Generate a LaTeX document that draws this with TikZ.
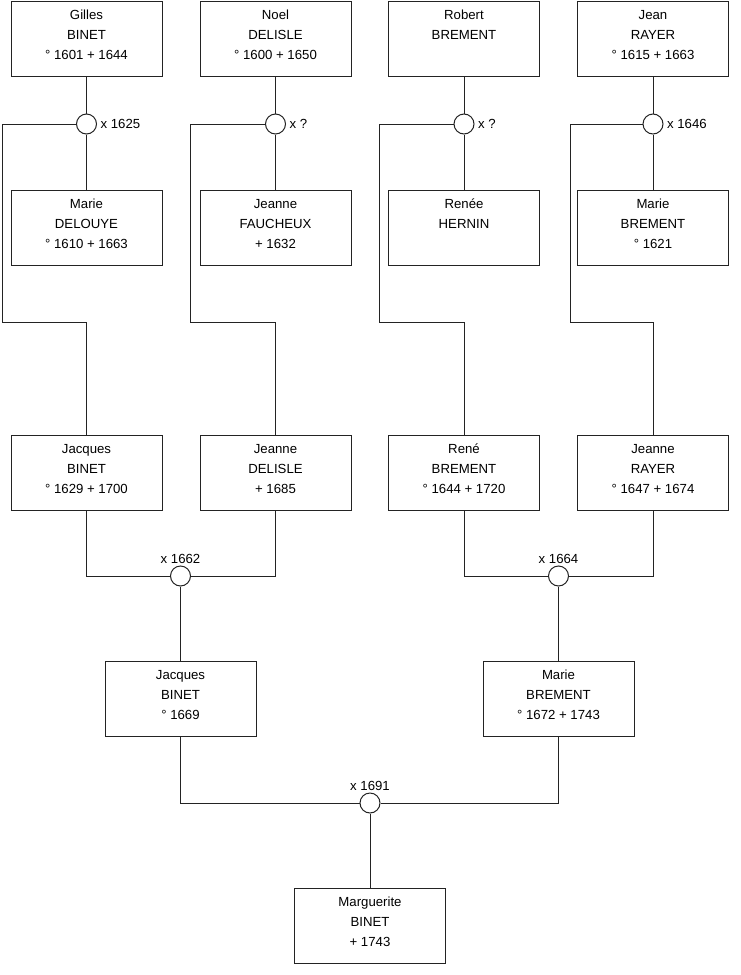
\documentclass[tikz,border=0pt]{standalone}
\usepackage{fontspec}
\setmainfont{Liberation Sans}
\usepackage{tikz}
\usetikzlibrary{positioning}
\definecolor{mydark}{RGB}{35,35,35}
\newcommand{\who}[3]{\rule{0pt}{8pt}#1\\#2\\#3\rule[-6.5pt]{0pt}{0pt}}
\tikzset{
  person/.style={rectangle, draw=mydark, fill=white,
    minimum width=113.25pt, minimum height=56.25pt, inner sep=0pt,
    align=center, font=\fontsize{9.9}{15}\selectfont, line width=0.75pt},
  union/.style={circle, draw=mydark, fill=white,
    minimum size=15pt, inner sep=0pt, line width=0.75pt},
  datelbl/.style={font=\fontsize{9.9}{12}\selectfont, inner sep=0pt},
  line/.style={line width=0.75pt, color=mydark}
}

\begin{document}
\begin{tikzpicture}[x=0.75pt, y=-0.75pt]
  \useasboundingbox (0,0) rectangle (740,975);

  % Great-grandparents
  \node[person] (gilles) at (86.5, 38.5) {\who{Gilles}{BINET}{° 1601 + 1644}};
  \node[person] (noel) at (275.5, 38.5) {\who{Noel}{DELISLE}{° 1600 + 1650}};
  \node[person] (robert) at (464, 38.5) {\who{Robert}{BREMENT}{}};
  \node[person] (jean) at (653, 38.5) {\who{Jean}{RAYER}{° 1615 + 1663}};

  \node[person] (marieD) at (86.5, 227.5) {\who{Marie}{DELOUYE}{° 1610 + 1663}};
  \node[person] (jeanneF) at (275.5, 227.5) {\who{Jeanne}{FAUCHEUX}{+ 1632}};
  \node[person] (reneeH) at (464, 227.5) {\who{Renée}{HERNIN}{}};
  \node[person] (marieB1) at (653, 227.5) {\who{Marie}{BREMENT}{° 1621}};

  % Unions
  \node[union] (u1) at (86.5, 124) {};
  \node[union] (u2) at (275.5, 124) {};
  \node[union] (u3) at (464, 124) {};
  \node[union] (u4) at (653, 124) {};

  \node[datelbl, right=2.5pt of u1] (d1) {x 1625};
  \node[datelbl, right=2.5pt of u2] (d2) {x ?};
  \node[datelbl, right=2.5pt of u3] (d3) {x ?};
  \node[datelbl, right=2.5pt of u4] (d4) {x 1646};

  % Grandparents
  \node[person] (jacquesB1) at (86.5, 472.5) {\who{Jacques}{BINET}{° 1629 + 1700}};
  \node[person] (jeanneD) at (275.5, 472.5) {\who{Jeanne}{DELISLE}{+ 1685}};
  \node[person] (reneB) at (464, 472.5) {\who{René}{BREMENT}{° 1644 + 1720}};
  \node[person] (jeanneR) at (653, 472.5) {\who{Jeanne}{RAYER}{° 1647 + 1674}};

  \node[union] (u5) at (180.5, 576) {};
  \node[union] (u6) at (558.5, 576) {};
  \node[datelbl, above=1.5pt of u5] (d5) {x 1662};
  \node[datelbl, above=1.5pt of u6] (d6) {x 1664};

  % Parents
  \node[person] (jacquesB2) at (180.5, 698.5) {\who{Jacques}{BINET}{° 1669}};
  \node[person] (marieB2) at (558.5, 698.5) {\who{Marie}{BREMENT}{° 1672 + 1743}};

  \node[union] (u7) at (370, 803) {};
  \node[datelbl, above=1.5pt of u7] (d7) {x 1691};

  \node[person] (marguerite) at (370, 925.5) {\who{Marguerite}{BINET}{+ 1743}};

  % Bends of the child lines
  \coordinate (k1a) at (2, 124);    \coordinate (k1b) at (2, 322);
  \coordinate (k2a) at (190, 124);  \coordinate (k2b) at (190, 322);
  \coordinate (k3a) at (379, 124);  \coordinate (k3b) at (379, 322);
  \coordinate (k4a) at (570, 124);  \coordinate (k4b) at (570, 322);

  % Connect lines
  \draw[line] (gilles) -- (u1) -- (marieD);
  \draw[line] (noel) -- (u2) -- (jeanneF);
  \draw[line] (robert) -- (u3) -- (reneeH);
  \draw[line] (jean) -- (u4) -- (marieB1);

  \draw[line] (u1) -- (k1a) -- (k1b) -| (jacquesB1);
  \draw[line] (u2) -- (k2a) -- (k2b) -| (jeanneD);
  \draw[line] (u3) -- (k3a) -- (k3b) -| (reneB);
  \draw[line] (u4) -- (k4a) -- (k4b) -| (jeanneR);

  \draw[line] (jacquesB1) |- (u5) -| (jeanneD);
  \draw[line] (reneB) |- (u6) -| (jeanneR);
  \draw[line] (u5) -- (jacquesB2);
  \draw[line] (u6) -- (marieB2);

  \draw[line] (jacquesB2) |- (u7) -| (marieB2);
  \draw[line] (u7) -- (marguerite);
\end{tikzpicture}
\end{document}
